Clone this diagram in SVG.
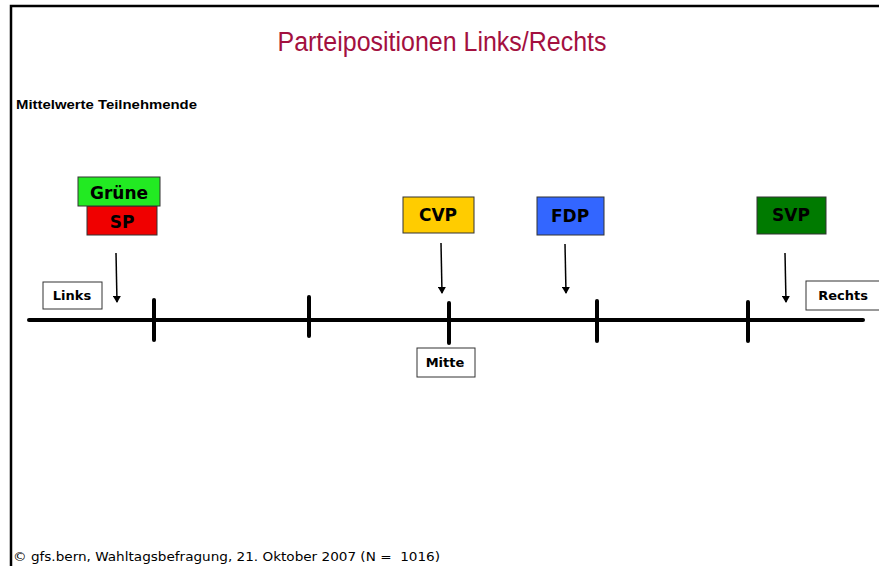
<svg xmlns="http://www.w3.org/2000/svg" width="879" height="566" viewBox="0 0 879 566">
<style>
.party{stroke:#333;stroke-width:1}
.ptxt{font-family:"DejaVu Sans",Verdana,sans-serif;font-weight:bold;font-size:17px;fill:#000;text-anchor:middle}
.lbl{fill:#fff;stroke:#333;stroke-width:1}
.ltxt{font-family:"DejaVu Sans",Verdana,sans-serif;font-weight:bold;font-size:13px;fill:#000;text-anchor:middle}
.tick{stroke:#000;stroke-width:4;stroke-linecap:round}
.arr{stroke:#000;stroke-width:1.5;fill:none}
</style>
<defs>
<marker id="ah" markerWidth="8" markerHeight="8" refX="6" refY="4" orient="auto" markerUnits="userSpaceOnUse">
<path d="M0,0 L7,4 L0,8 Z" fill="#000"/>
</marker>
</defs>
<rect width="879" height="566" fill="#fff"/>
<path d="M11,566 V6 H879" fill="none" stroke="#000" stroke-width="2.5"/>
<text x="442" y="51" font-family="'Liberation Sans Narrow','Liberation Sans',Arial,sans-serif" font-size="27" fill="#a3103f" text-anchor="middle" textLength="329" lengthAdjust="spacingAndGlyphs">Parteipositionen Links/Rechts</text>
<text x="16" y="109" font-family="'Liberation Sans',Arial,sans-serif" font-weight="bold" font-size="13" fill="#000" textLength="181" lengthAdjust="spacingAndGlyphs">Mittelwerte Teilnehmende</text>
<g id="axis">
<line x1="29" y1="320" x2="863" y2="320" stroke="#000" stroke-width="4" stroke-linecap="round"/>
<line class="tick" x1="154" y1="300" x2="154" y2="340"/>
<line class="tick" x1="309" y1="297" x2="309" y2="336"/>
<line class="tick" x1="449" y1="303" x2="449" y2="343"/>
<line class="tick" x1="597" y1="301" x2="597" y2="341"/>
<line class="tick" x1="748" y1="302" x2="748" y2="341"/>
</g>
<g id="sp"><rect class="party" x="87" y="206" width="70" height="29" fill="#f00000"/><text class="ptxt" x="122" y="228">SP</text></g>
<g id="gruene"><rect class="party" x="78" y="177" width="82" height="29" fill="#22ea22"/><text class="ptxt" x="119" y="199">Grüne</text></g>
<g id="cvp"><rect class="party" x="403" y="197" width="71" height="36" fill="#ffcc00"/><text class="ptxt" x="438" y="221">CVP</text></g>
<g id="fdp"><rect class="party" x="537" y="197" width="67" height="38" fill="#3366ff"/><text class="ptxt" x="570" y="222">FDP</text></g>
<g id="svp"><rect class="party" x="757" y="197" width="69" height="37" fill="#007a00"/><text class="ptxt" x="791" y="221">SVP</text></g>
<g id="links"><rect class="lbl" x="43" y="282" width="59" height="27"/><text class="ltxt" x="72" y="300">Links</text></g>
<g id="mitte"><rect class="lbl" x="417" y="348" width="58" height="29"/><text class="ltxt" x="445" y="367">Mitte</text></g>
<g id="rechts"><rect class="lbl" x="806" y="281" width="74" height="29"/><text class="ltxt" x="843" y="300">Rechts</text></g>
<g id="connectors">
<line class="arr" x1="116" y1="253" x2="117" y2="302" marker-end="url(#ah)"/>
<line class="arr" x1="441" y1="243" x2="442" y2="293" marker-end="url(#ah)"/>
<line class="arr" x1="565" y1="244" x2="566" y2="293" marker-end="url(#ah)"/>
<line class="arr" x1="785" y1="253" x2="786" y2="302" marker-end="url(#ah)"/>
</g>
<text x="13" y="561" font-family="'DejaVu Sans',Tahoma,sans-serif" font-size="12" fill="#000" textLength="427" lengthAdjust="spacingAndGlyphs">© gfs.bern, Wahltagsbefragung, 21. Oktober 2007 (N =&#160; 1016)</text>
</svg>
